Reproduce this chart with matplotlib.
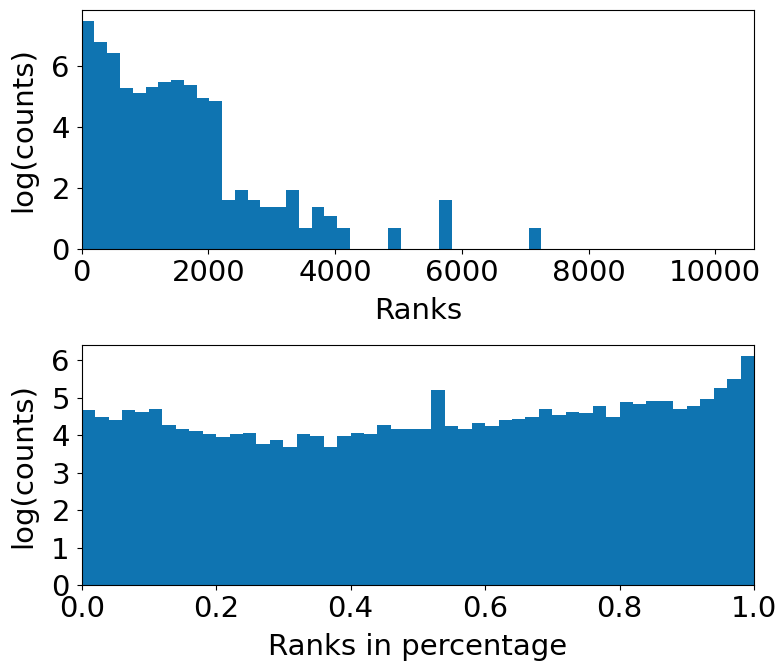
import numpy as np
from matplotlib import pyplot as plt

# top histogram: log(counts) per rank bin (bin width ~201.5)
rank_bin_width = 201.5
rank_log_counts = [7.48, 6.81, 6.45, 5.28, 5.12, 5.34, 5.49, 5.56, 5.39, 4.96,
                   4.87, 1.61, 1.95, 1.61, 1.39, 1.39, 1.95, 0.69, 1.39, 1.10,
                   0.69, 0, 0, 0, 0.69, 0, 0, 0, 1.61, 0,
                   0, 0, 0, 0, 0, 0.69, 0, 0, 0, 0,
                   0, 0, 0, 0, 0, 0, 0, 0, 0, 0]

# bottom histogram: log(counts) per percentage bin (50 bins over 0..1)
pct_log_counts = [4.66, 4.49, 4.40, 4.66, 4.62, 4.70, 4.28, 4.15, 4.12, 4.02,
                  3.94, 4.02, 4.06, 3.77, 3.86, 3.69, 4.02, 3.98, 3.69, 3.98,
                  4.06, 4.02, 4.28, 4.15, 4.15, 4.15, 5.20, 4.23, 4.15, 4.32,
                  4.23, 4.41, 4.44, 4.49, 4.70, 4.53, 4.62, 4.58, 4.78, 4.49,
                  4.87, 4.83, 4.91, 4.91, 4.70, 4.78, 4.96, 5.25, 5.50, 6.10]

BAR_COLOR = "#0f74b1"
FS = 21

fig = plt.figure(figsize=(7.81, 6.63), dpi=100)

# Ranks
ax1 = fig.add_axes([0.1046, 0.624, 0.8608, 0.361])
edges1 = np.arange(len(rank_log_counts) + 1) * rank_bin_width
ax1.hist(edges1[:-1], bins=edges1, weights=rank_log_counts, color=BAR_COLOR)
ax1.set_xlim(0, 10610)
ax1.set_xticks([0, 2000, 4000, 6000, 8000, 10000])
ax1.set_yticks([0, 2, 4, 6])
ax1.set_xlabel("Ranks", fontsize=FS, labelpad=7)
ax1.set_ylabel("log(counts)", fontsize=FS, labelpad=10)
ax1.tick_params(labelsize=FS)
ax1.tick_params(axis="y", pad=5)

# Ranks in percentage
ax2 = fig.add_axes([0.1046, 0.1169, 0.8608, 0.3632])
edges2 = np.linspace(0, 1, len(pct_log_counts) + 1)
ax2.hist(edges2[:-1], bins=edges2, weights=pct_log_counts, color=BAR_COLOR)
ax2.set_xlim(0, 1)
ax2.set_yticks([0, 1, 2, 3, 4, 5, 6])
ax2.set_xlabel("Ranks in percentage", fontsize=FS, labelpad=7)
ax2.set_ylabel("log(counts)", fontsize=FS, labelpad=10)
ax2.tick_params(labelsize=FS)
ax2.tick_params(axis="y", pad=5)

fig.savefig("out.png", dpi=100)
